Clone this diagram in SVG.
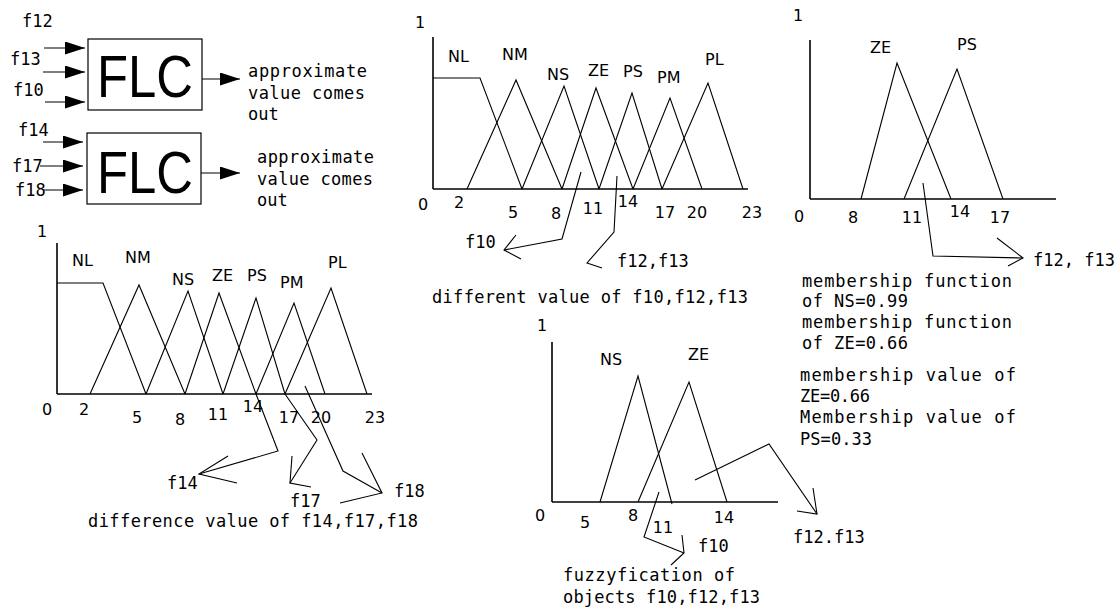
<svg xmlns="http://www.w3.org/2000/svg" width="1119" height="609" viewBox="0 0 1119 609">
<defs>
<style>
.bg{fill:#fff}
.ln{stroke:#000;stroke-width:1.1;fill:none;stroke-linejoin:miter}
.ax{stroke:#000;stroke-width:1.6;fill:none}
.box{stroke:#000;stroke-width:1.2;fill:#fff}
.t{font-family:"DejaVu Sans Mono",monospace;font-size:17px;fill:#000}
.n{font-family:"DejaVu Sans",sans-serif;font-size:16px;fill:#000}
.nc{font-family:"DejaVu Sans",sans-serif;font-size:16px;fill:#000;text-anchor:middle}
.big{font-family:"Liberation Sans",Arial,sans-serif;font-size:60px;fill:#000}
</style>
<marker id="ah" markerWidth="20" markerHeight="13" refX="20" refY="6.5" orient="auto" markerUnits="userSpaceOnUse">
<path d="M0,0 L20,6.5 L0,13 z" fill="#000"/>
</marker>
</defs>
<rect class="bg" x="0" y="0" width="1119" height="609"/>

<!-- FLC 1 -->
<g id="flc1">
<rect class="box" x="88" y="39" width="114" height="71"/>
<text class="big" x="97" y="97" textLength="96" lengthAdjust="spacingAndGlyphs">FLC</text>
</g>
<g id="flc1-inputs">
<text class="t" x="22" y="27">f12</text>
<text class="t" x="10" y="65">f13</text>
<text class="t" x="13" y="96">f10</text>
</g>
<g id="flc1-output">
<text class="t" x="248" y="77" textLength="119">approximate</text>
<text class="t" x="248" y="99" textLength="117">value comes</text>
<text class="t" x="248" y="120">out</text>
</g>

<!-- FLC 2 -->
<g id="flc2">
<rect class="box" x="87" y="133" width="114" height="71"/>
<text class="big" x="97" y="193" textLength="96" lengthAdjust="spacingAndGlyphs">FLC</text>
</g>
<g id="flc2-inputs">
<text class="t" x="18" y="136">f14</text>
<text class="t" x="12" y="172">f17</text>
<text class="t" x="15" y="196">f18</text>
</g>
<g id="flc2-output">
<text class="t" x="257" y="163" textLength="117">approximate</text>
<text class="t" x="257" y="185" textLength="116">value comes</text>
<text class="t" x="257" y="206">out</text>
</g>

<!-- Chart: middle top -->
<g id="chart-top-middle">
<line class="ax" x1="433" y1="37" x2="433" y2="189"/>
<line class="ax" x1="433" y1="189" x2="748" y2="189"/>
<polyline class="ln" points="433,78 480,78 522,189"/>
<polyline class="ln" points="467,189 516,80 562,189"/>
<polyline class="ln" points="522,189 564,86 599,189"/>
<polyline class="ln" points="562,189 596,88 633,189"/>
<polyline class="ln" points="599,189 632,93 662,189"/>
<polyline class="ln" points="633,189 670,98 702,189"/>
<polyline class="ln" points="662,189 708,83 743,189"/>
<text class="nc" x="420" y="28">1</text>
<text class="n" x="448" y="62">NL</text>
<text class="n" x="502" y="60">NM</text>
<text class="n" x="547" y="80">NS</text>
<text class="n" x="588" y="76">ZE</text>
<text class="n" x="623" y="77">PS</text>
<text class="n" x="657" y="83">PM</text>
<text class="n" x="705" y="65">PL</text>
<text class="nc" x="423" y="210">0</text>
<text class="nc" x="459" y="208">2</text>
<text class="nc" x="513" y="218">5</text>
<text class="nc" x="556" y="219">8</text>
<text class="nc" x="593" y="214">11</text>
<text class="nc" x="628" y="207">14</text>
<text class="nc" x="665" y="218">17</text>
<text class="nc" x="697" y="218">20</text>
<text class="nc" x="752" y="218">23</text>
<text class="t" x="465" y="248">f10</text>
<text class="t" x="617" y="267">f12,f13</text>
<text class="t" x="432" y="303" textLength="316">different value of f10,f12,f13</text>
</g>

<!-- Chart: right top -->
<g id="chart-top-right">
<line class="ax" x1="810" y1="40" x2="810" y2="199"/>
<line class="ax" x1="810" y1="199" x2="1056" y2="199"/>
<polyline class="ln" points="861,199 897,63 951,199"/>
<polyline class="ln" points="904,199 957,69 1003,199"/>
<text class="nc" x="798" y="21">1</text>
<text class="n" x="870" y="53">ZE</text>
<text class="n" x="957" y="50">PS</text>
<text class="nc" x="799" y="222">0</text>
<text class="nc" x="853" y="223">8</text>
<text class="nc" x="912" y="223">11</text>
<text class="nc" x="960" y="217">14</text>
<text class="nc" x="1000" y="223">17</text>
<text class="t" x="1033" y="266">f12, f13</text>
</g>

<g id="membership-notes">
<text class="t" x="802" y="287" textLength="210">membership function</text>
<text class="t" x="802" y="307" textLength="106">of NS=0.99</text>
<text class="t" x="802" y="328" textLength="210">membership function</text>
<text class="t" x="802" y="349" textLength="106">of ZE=0.66</text>
<text class="t" x="800" y="381" textLength="216">membership value of</text>
<text class="t" x="800" y="402" textLength="70">ZE=0.66</text>
<text class="t" x="800" y="423" textLength="216">Membership value of</text>
<text class="t" x="800" y="445" textLength="72">PS=0.33</text>
</g>

<!-- Chart: bottom left -->
<g id="chart-bottom-left">
<line class="ax" x1="57" y1="243" x2="57" y2="394"/>
<line class="ax" x1="57" y1="394" x2="372" y2="394"/>
<polyline class="ln" points="57,283 103,283 146,394"/>
<polyline class="ln" points="90,394 139,285 185,394"/>
<polyline class="ln" points="146,394 188,291 223,394"/>
<polyline class="ln" points="185,394 219,293 256,394"/>
<polyline class="ln" points="223,394 256,298 285,394"/>
<polyline class="ln" points="256,394 294,303 325,394"/>
<polyline class="ln" points="285,394 331,288 367,394"/>
<text class="nc" x="42" y="237">1</text>
<text class="n" x="72" y="266">NL</text>
<text class="n" x="125" y="263">NM</text>
<text class="n" x="172" y="285">NS</text>
<text class="n" x="212" y="281">ZE</text>
<text class="n" x="247" y="281">PS</text>
<text class="n" x="280" y="288">PM</text>
<text class="n" x="328" y="268">PL</text>
<text class="nc" x="47" y="415">0</text>
<text class="nc" x="84" y="415">2</text>
<text class="nc" x="137" y="423">5</text>
<text class="nc" x="180" y="425">8</text>
<text class="nc" x="218" y="420">11</text>
<text class="nc" x="253" y="412">14</text>
<text class="nc" x="289" y="423">17</text>
<text class="nc" x="321" y="423">20</text>
<text class="nc" x="375" y="423">23</text>
<text class="t" x="167" y="489">f14</text>
<text class="t" x="290" y="507">f17</text>
<text class="t" x="394" y="497">f18</text>
<text class="t" x="88" y="527" textLength="330">difference value of f14,f17,f18</text>
</g>

<!-- Chart: bottom middle -->
<g id="chart-bottom-middle">
<line class="ax" x1="552" y1="342" x2="552" y2="502"/>
<line class="ax" x1="552" y1="502" x2="778" y2="502"/>
<polyline class="ln" points="600,502 638,376 672,504"/>
<polyline class="ln" points="638,502 689,382 727,502"/>
<text class="nc" x="542" y="331">1</text>
<text class="n" x="600" y="365">NS</text>
<text class="n" x="688" y="360">ZE</text>
<text class="nc" x="540" y="521">0</text>
<text class="nc" x="585" y="528">5</text>
<text class="nc" x="633" y="521">8</text>
<text class="nc" x="663" y="533">11</text>
<text class="nc" x="724" y="523">14</text>
<text class="t" x="698" y="552">f10</text>
<text class="t" x="793" y="543">f12.f13</text>
<text class="t" x="563" y="581" textLength="172">fuzzyfication of</text>
<text class="t" x="563" y="603" textLength="197">objects f10,f12,f13</text>
</g>

<!-- Connectors -->
<g id="connectors">
<line class="ln" x1="44" y1="48" x2="85" y2="48" marker-end="url(#ah)"/>
<line class="ln" x1="43" y1="72" x2="85" y2="72" marker-end="url(#ah)"/>
<line class="ln" x1="45" y1="102" x2="85" y2="102" marker-end="url(#ah)"/>
<line class="ln" x1="202" y1="79" x2="240" y2="79" marker-end="url(#ah)"/>
<line class="ln" x1="43" y1="142" x2="83" y2="142" marker-end="url(#ah)"/>
<line class="ln" x1="40" y1="166" x2="83" y2="166" marker-end="url(#ah)"/>
<line class="ln" x1="43" y1="190" x2="83" y2="190" marker-end="url(#ah)"/>
<line class="ln" x1="201" y1="173" x2="240" y2="173" marker-end="url(#ah)"/>

<polyline class="ln" points="581,172 562,239 504,250"/>
<polyline class="ln" points="516,235 504,250 521,259"/>
<polyline class="ln" points="617,176 614,232 587,263 602,268"/>

<polyline class="ln" points="923,183 933,256 1023,258"/>
<polyline class="ln" points="997,238 1023,258 1008,266"/>

<polyline class="ln" points="256,394 278,451 199,474"/>
<polyline class="ln" points="228,456 199,474 237,483"/>
<polyline class="ln" points="285,394 317,440 290,483 311,487"/>
<line class="ln" x1="292" y1="456" x2="290" y2="483"/>
<polyline class="ln" points="305,386 343,471 382,493"/>
<polyline class="ln" points="362,453 382,493 340,503"/>

<polyline class="ln" points="659,492 644,537 684,553"/>
<polyline class="ln" points="682,535 684,553 671,565"/>
<polyline class="ln" points="695,480 769,444 817,514"/>
<polyline class="ln" points="813,488 817,514 797,511"/>
</g>
</svg>
